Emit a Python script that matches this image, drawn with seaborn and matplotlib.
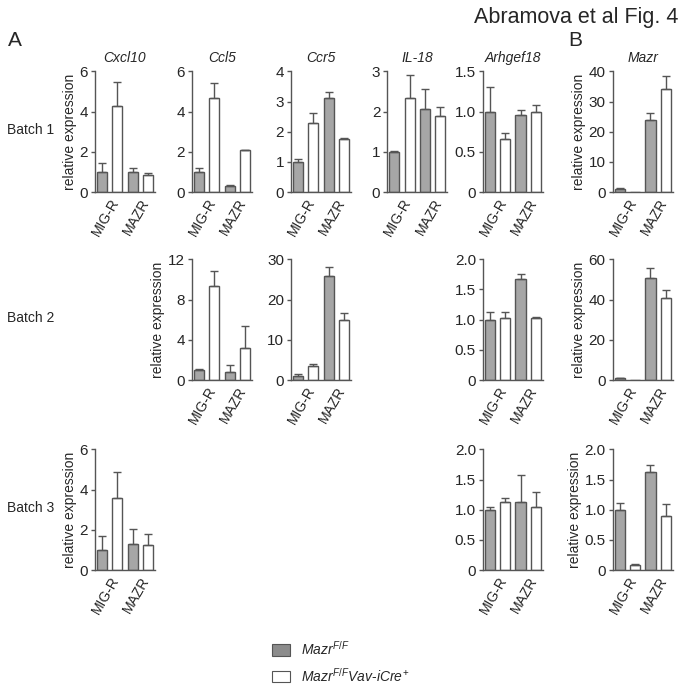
import numpy as np
import pandas as pd
import seaborn as sns
import matplotlib.pyplot as plt
from matplotlib.patches import Patch

# categories
constructs = ["MIG-R", "MAZR"]
genotypes = ["MazrFF", "MazrFF_Vav"]

# bar values, order: MIG-R grey, MIG-R white, MAZR grey, MAZR white
# *_top = upper end of the error bar
b1_cxcl10 = [1.0, 4.3, 1.0, 0.85]
b1_cxcl10_top = [1.45, 5.45, 1.22, 0.93]
b1_ccl5 = [1.0, 4.68, 0.3, 2.08]
b1_ccl5_top = [1.2, 5.4, 0.35, 2.1]
b1_ccr5 = [1.0, 2.3, 3.13, 1.75]
b1_ccr5_top = [1.1, 2.62, 3.3, 1.78]
b1_il18 = [1.0, 2.33, 2.07, 1.88]
b1_il18_top = [1.01, 2.9, 2.57, 2.12]
b1_arhgef18 = [1.0, 0.66, 0.96, 1.0]
b1_arhgef18_top = [1.31, 0.74, 1.02, 1.08]
b1_mazr = [1.0, 0.0, 24.0, 34.3]
b1_mazr_top = [1.2, 0.0, 26.3, 38.5]

b2_ccl5 = [1.0, 9.3, 0.75, 3.2]
b2_ccl5_top = [1.1, 10.8, 1.45, 5.4]
b2_ccr5 = [1.0, 3.6, 25.9, 14.8]
b2_ccr5_top = [1.5, 4.1, 28.0, 16.7]
b2_arhgef18 = [1.0, 1.02, 1.67, 1.02]
b2_arhgef18_top = [1.13, 1.13, 1.75, 1.04]
b2_mazr = [1.0, 0.2, 50.5, 41.0]
b2_mazr_top = [1.2, 0.2, 55.5, 44.5]

b3_cxcl10 = [1.0, 3.6, 1.3, 1.27]
b3_cxcl10_top = [1.7, 4.85, 2.05, 1.8]
b3_arhgef18 = [1.0, 1.13, 1.13, 1.05]
b3_arhgef18_top = [1.04, 1.19, 1.57, 1.29]
b3_mazr = [1.0, 0.09, 1.62, 0.9]
b3_mazr_top = [1.11, 0.1, 1.74, 1.1]

# y ticks / labels
ticks_6 = [0, 2, 4, 6]
ticks_4 = [0, 1, 2, 3, 4]
ticks_3 = [0, 1, 2, 3]
ticks_15 = [0, 0.5, 1.0, 1.5]
labels_15 = ["0", "0.5", "1.0", "1.5"]
ticks_20 = [0, 0.5, 1.0, 1.5, 2.0]
labels_20 = ["0", "0.5", "1.0", "1.5", "2.0"]
ticks_40 = [0, 10, 20, 30, 40]
ticks_12 = [0, 4, 8, 12]
ticks_30 = [0, 10, 20, 30]
ticks_60 = [0, 20, 40, 60]

sns.set_style("ticks")
plt.rcParams["font.family"] = ["Liberation Sans", "DejaVu Sans"]
plt.rcParams["mathtext.fontset"] = "custom"
plt.rcParams["mathtext.it"] = "Liberation Sans:italic"
plt.rcParams["mathtext.rm"] = "Liberation Sans"

grey = "#a6a6a6"
edge = "#555555"

fig = plt.figure(figsize=(6.83, 6.86), dpi=100)

# layout (figure fractions)
col_left = [0.139, 0.281, 0.426, 0.567, 0.707, 0.897]
row_bottom = [0.720, 0.446, 0.169]
ax_w, ax_h = 0.088, 0.176

panels = [
    # row, col, title, values, tops, ymax, ticks, ticklabels, ylabel
    (0, 0, "Cxcl10", b1_cxcl10, b1_cxcl10_top, 6, ticks_6, None, True),
    (0, 1, "Ccl5", b1_ccl5, b1_ccl5_top, 6, ticks_6, None, False),
    (0, 2, "Ccr5", b1_ccr5, b1_ccr5_top, 4, ticks_4, None, False),
    (0, 3, "IL-18", b1_il18, b1_il18_top, 3, ticks_3, None, False),
    (0, 4, "Arhgef18", b1_arhgef18, b1_arhgef18_top, 1.5, ticks_15, labels_15, False),
    (0, 5, "Mazr", b1_mazr, b1_mazr_top, 40, ticks_40, None, True),
    (1, 1, None, b2_ccl5, b2_ccl5_top, 12, ticks_12, None, True),
    (1, 2, None, b2_ccr5, b2_ccr5_top, 30, ticks_30, None, False),
    (1, 4, None, b2_arhgef18, b2_arhgef18_top, 2.0, ticks_20, labels_20, False),
    (1, 5, None, b2_mazr, b2_mazr_top, 60, ticks_60, None, True),
    (2, 0, None, b3_cxcl10, b3_cxcl10_top, 6, ticks_6, None, True),
    (2, 4, None, b3_arhgef18, b3_arhgef18_top, 2.0, ticks_20, labels_20, False),
    (2, 5, None, b3_mazr, b3_mazr_top, 2.0, ticks_20, labels_20, True),
]

for row, col, title, values, tops, ymax, ticks, ticklabels, ylab in panels:
    ax = fig.add_axes([col_left[col], row_bottom[row], ax_w, ax_h])
    df = pd.DataFrame({
        "construct": np.repeat(constructs, 2),
        "genotype": genotypes * 2,
        "value": values,
    })
    sns.barplot(data=df, x="construct", y="value", hue="genotype",
                order=constructs, hue_order=genotypes,
                palette=[grey, "white"], saturation=1, width=1.0, gap=0.33,
                edgecolor=edge, linewidth=1, errorbar=None, legend=False, ax=ax)
    bars = sorted(ax.patches, key=lambda p: p.get_x())
    for bar, top in zip(bars, tops):
        h = bar.get_height()
        if top <= h:
            continue
        xc = bar.get_x() + bar.get_width() / 2
        ax.errorbar(xc, h, yerr=[[0], [top - h]], color=edge, lw=1,
                    capsize=3, capthick=1, zorder=1)
    ax.set_xlim(-0.48, 1.48)
    ax.set_ylim(0, ymax)
    ax.set_yticks(ticks)
    if ticklabels is not None:
        ax.set_yticklabels(ticklabels)
    ax.set_xlabel("")
    ax.set_ylabel("relative expression" if ylab else "", fontsize=10, labelpad=2)
    if title:
        ax.set_title(title, fontsize=10, style="italic", pad=7)
    sns.despine(ax=ax)
    for s in ["left", "bottom"]:
        ax.spines[s].set_color(edge)
        ax.spines[s].set_linewidth(1)
    ax.tick_params(axis="y", length=3, width=1, color=edge, labelsize=11, pad=2)
    ax.tick_params(axis="x", length=0, labelsize=10, pad=3)
    for lbl in ax.get_xticklabels():
        lbl.set_rotation(60)
        lbl.set_ha("right")
        lbl.set_rotation_mode("anchor")

fig.text(0.993, 0.975, "Abramova et al Fig. 4", fontsize=15.5, ha="right", va="center")
fig.text(0.011, 0.941, "A", fontsize=15, va="center")
fig.text(0.832, 0.941, "B", fontsize=15, va="center")
fig.text(0.010, 0.810, "Batch 1", fontsize=10, va="center")
fig.text(0.010, 0.536, "Batch 2", fontsize=10, va="center")
fig.text(0.010, 0.260, "Batch 3", fontsize=10, va="center")

handles = [Patch(facecolor="#8c8c8c", edgecolor=edge, linewidth=0.8),
           Patch(facecolor="white", edgecolor=edge, linewidth=0.8)]
labels = [r"$Mazr^{F/F}$", r"$Mazr^{F/F}Vav$-$iCre^{+}$"]
fig.legend(handles, labels, loc="upper left", bbox_to_anchor=(0.39, 0.075),
           frameon=False, fontsize=10, handlelength=1.3, handleheight=0.9,
           handletextpad=0.8, labelspacing=0.6, borderaxespad=0)

fig.savefig("out.png", dpi=100)
